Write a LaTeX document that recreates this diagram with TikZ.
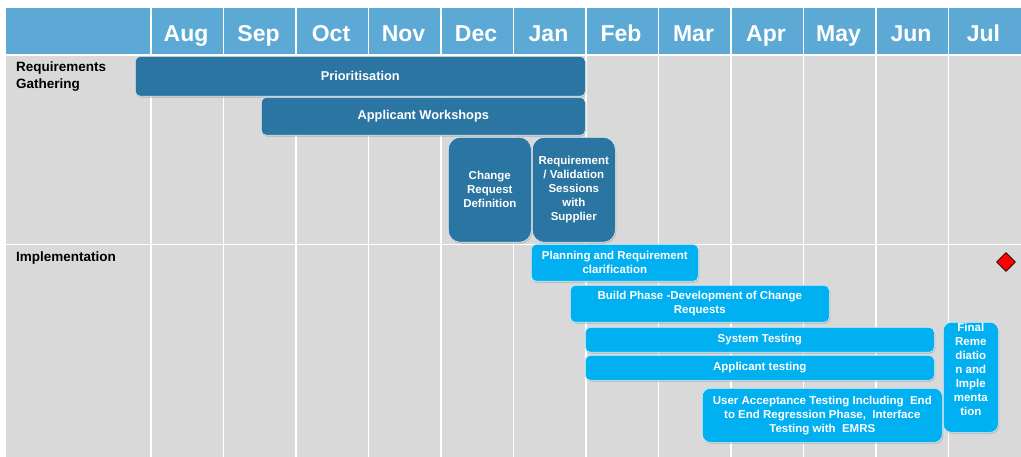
\documentclass[tikz,border=0pt]{standalone}
\usepackage{fontspec}
\setmainfont{Liberation Sans}
\usetikzlibrary{shapes.geometric}
\usetikzlibrary{shadows}
\definecolor{headblue}{RGB}{91,169,212}
\definecolor{darkbar}{RGB}{42,117,161}
\definecolor{lightbar}{RGB}{0,176,240}
\definecolor{bodygray}{RGB}{217,217,217}

\begin{document}
\begin{tikzpicture}[line cap=round,line join=round,x=1pt,y=-1pt,
  gridline/.style={color=white,line width=1.5pt},
  bartext/.style={text=white,font=\fontsize{11.5}{14}\selectfont\bfseries,align=center,inner sep=0pt},
  darkbox/.style={bartext,fill=darkbar,draw=white!85!darkbar,line width=0.6pt,rounded corners=5pt,anchor=north west,
    drop shadow={shadow xshift=1pt,shadow yshift=-1.5pt,opacity=0.3}},
  longbox/.style={darkbox,font=\fontsize{12.8}{15}\selectfont\bfseries},
  lightbox/.style={darkbox,fill=lightbar,draw=white!80!lightbar},
  rowlabel/.style={anchor=north west,align=left,inner sep=0pt,font=\fontsize{13.5}{17}\selectfont\bfseries}]
\useasboundingbox (0,0) rectangle (1021,457);
%kopf und hintergrund
\fill[headblue] (6,8) rectangle (1021,54);
\fill[bodygray] (6,56) rectangle (1021,457);
\foreach \i in {0,...,11}
{
\draw[gridline] (151+72.5*\i,8) -- (151+72.5*\i,457);
}
\draw[gridline] (6,244.5) -- (1021,244.5);
\foreach \m [count=\i] in {Aug,Sep,Oct,Nov,Dec,Jan,Feb,Mar,Apr,May,Jun,Jul}
{
\node[anchor=base,inner sep=0pt,text=white,font=\fontsize{23}{27}\selectfont\bfseries] (m\i) at (113.5+72.5*\i,42) {\m};
}
%zeilen
\node[rowlabel] (reqlabel) at (16,62) {Requirements\\Gathering};
\node[rowlabel] (implabel) at (16,252) {Implementation};
%requirements gathering
\node[longbox,minimum width=450,minimum height=40] (prio) at (135,56) {Prioritisation};
\node[longbox,minimum width=324,minimum height=38] (workshops) at (261,97) {Applicant Workshops};
\node[darkbox,rounded corners=12pt,minimum width=83,minimum height=105] (crdef) at (448,137) {Change\\Request\\Definition};
\node[darkbox,rounded corners=12pt,minimum width=83,minimum height=105] (sessions) at (532,137) {Requirement\\/ Validation\\Sessions\\with\\Supplier};
%implementation
\node[lightbox,minimum width=167,minimum height=37] (planning) at (531,244) {Planning and Requirement\\clarification};
\node[lightbox,minimum width=259,minimum height=37] (build) at (570,285) {Build Phase -Development of Change\\Requests};
\node[lightbox,minimum width=349,minimum height=25] (systest) at (585,327) {System Testing};
\node[lightbox,minimum width=349,minimum height=25] (apptest) at (585,355) {Applicant testing};
\node[lightbox,rounded corners=8pt,minimum width=240,minimum height=54] (uat) at (702,388) {User Acceptance Testing Including~ End\\to End Regression Phase,~ Interface\\Testing with~ EMRS};
\node[lightbox,rounded corners=8pt,minimum width=55,minimum height=110] (final) at (943,322) {};
\node[bartext] (finaltext) at ([yshift=8pt]final.center) {Final\\Reme\\diatio\\n and\\Imple\\menta\\tion};
\node[diamond,fill=red,draw=black,line width=0.6pt,minimum size=19pt,inner sep=0pt] (golive) at (1006,262) {};
\end{tikzpicture}
\end{document}
